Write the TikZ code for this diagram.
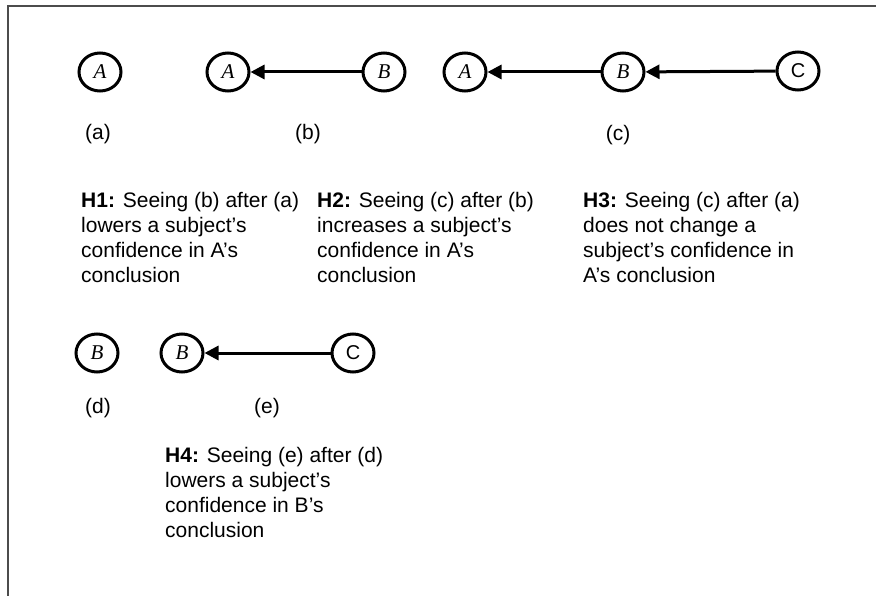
\documentclass[tikz,border=0pt]{standalone}
\usepackage{fontspec}
\setmainfont{Liberation Sans}
\newfontfamily\timesfont{Liberation Serif}
\usetikzlibrary{arrows.meta}
\usetikzlibrary{shapes.geometric}

\begin{document}
\begin{tikzpicture}[x=1pt,y=-1pt]
		\useasboundingbox (0,0) rectangle (876,596);
		\draw[line width=1.8pt, black!70] (8,596) -- (8,6) -- (876,6);
		\begin{scope}[every node/.style = {ellipse, draw, line width=3pt, minimum width=42pt, minimum height=38pt, inner sep=0pt, font=\timesfont\itshape\fontsize{21pt}{21pt}\selectfont}]
			\node (Aa) at (100,72) {A};
			\node (Ab) at (228,72) {A};
			\node (Bb) at (384,72) {B};
			\node (Ac) at (465,72) {A};
			\node (Bc) at (623,72) {B};
			\node[font=\normalfont\fontsize{20pt}{20pt}\selectfont] (Cc) at (798,71) {C};
			\node (Bd) at (97,353) {B};
			\node (Be) at (182,353) {B};
			\node[font=\normalfont\fontsize{20pt}{20pt}\selectfont] (Ce) at (353,353) {C};
		\end{scope}
		\begin{scope}[>={Triangle[length=14pt,width=14pt]}, line width=3pt]
			\path[->] (Bb) edge (Ab);
			\path[->] (Bc) edge (Ac);
			\path[->] (Cc) edge (Bc);
			\path[->] (Ce) edge (Be);
		\end{scope}
		\begin{scope}[every node/.style = {font=\fontsize{21pt}{25pt}\selectfont}]
			\node (la) at (98,134) {(a)};
			\node (lb) at (308,134) {(b)};
			\node (lc) at (618,135) {(c)};
			\node (ld) at (98,408) {(d)};
			\node (le) at (267,408) {(e)};
		\end{scope}
		\begin{scope}[every node/.style = {anchor=north west, align=left, inner sep=0pt, font=\fontsize{21pt}{25pt}\selectfont}]
			\node (H1) at (81,192) {\textbf{H1:} Seeing (b) after (a)\\lowers a subject’s\\confidence in A’s\\conclusion};
			\node (H2) at (317,192) {\textbf{H2:} Seeing (c) after (b)\\increases a subject’s\\confidence in A’s\\conclusion};
			\node (H3) at (583,192) {\textbf{H3:} Seeing (c) after (a)\\does not change a\\subject’s confidence in\\A’s conclusion};
			\node (H4) at (165,447) {\textbf{H4:} Seeing (e) after (d)\\lowers a subject’s\\confidence in B’s\\conclusion};
		\end{scope}
	\end{tikzpicture}
\end{document}
